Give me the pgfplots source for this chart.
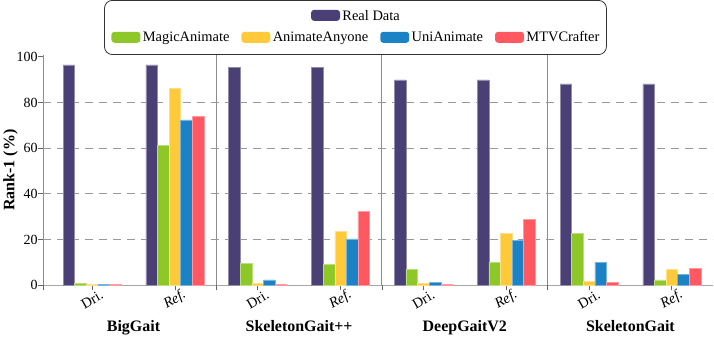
\documentclass[border=0pt]{standalone}
\usepackage{pgfplots}
\pgfplotsset{compat=1.18}
\usepackage{fontspec}
\setmainfont{Liberation Serif}

\definecolor{creal}{RGB}{74,64,118}
\definecolor{cmagic}{RGB}{141,200,40}
\definecolor{canyone}{RGB}{255,202,58}
\definecolor{cuni}{RGB}{27,130,198}
\definecolor{cmtv}{RGB}{255,88,96}

% legend swatch
\newcommand{\sw}[1]{\tikz[baseline=0pt]\fill[#1,rounded corners=3pt] (0,-0.8pt) rectangle (20pt,10.2pt);}

\begin{document}
\begin{tikzpicture}
\begin{axis}[
  scale only axis,
  width=672pt, height=231pt,
  xmin=-0.59, xmax=7.5,
  ymin=0, ymax=100.8,
  axis x line=bottom, axis y line=left,
  axis line style={-},
  x axis line style={black!35, line width=1.5pt},
  y axis line style={black!65, line width=0.8pt},
  tick align=outside, major tick length=5pt,
  tick style={black!60, line width=0.8pt},
  xtick={0,...,7},
  xticklabels={Dri.,\textit{Ref.},Dri.,\textit{Ref.},Dri.,\textit{Ref.},Dri.,\textit{Ref.}},
  xticklabel style={anchor=center, rotate=30, font=\fontsize{14.5}{14.5}\selectfont},
  xticklabel shift=9.5pt,
  ytick={0,20,...,100},
  yticklabel style={inner xsep=0.5pt, font=\fontsize{14}{14}\selectfont},
  /pgf/number format/assume math mode=true,
  extra y ticks={20,40,60,80}, extra y tick labels={},
  extra y tick style={grid=major, major grid style={black!40, dash pattern=on 8pt off 6pt, line width=1pt}},
  extra x ticks={-0.59,1.5,3.5,5.5}, extra x tick labels={},
  extra x tick style={grid=major, major grid style={black!45, line width=1pt}},
  ylabel={Rank-1 (\%)},
  ylabel style={at={(axis description cs:-0.0327,0.5)}, anchor=south, font=\bfseries\fontsize{16}{16}\selectfont},
  clip=false,
]
\addplot[ybar, bar width=0.14, bar shift=-0.28, fill=creal, draw=creal!60!white, line width=0.5pt]
  coordinates {(0,96.5) (1,96.5) (2,95.3) (3,95.3) (4,89.9) (5,89.9) (6,88.2) (7,88.2)};
\addplot[ybar, bar width=0.14, bar shift=-0.14, fill=cmagic, draw=cmagic!60!white, line width=0.5pt]
  coordinates {(0,0.8) (1,61.2) (2,9.7) (3,9.2) (4,6.9) (5,10.1) (6,22.8) (7,2.4)};
\addplot[ybar, bar width=0.14, bar shift=0, fill=canyone, draw=canyone!60!white, line width=0.5pt]
  coordinates {(0,0.3) (1,86.3) (2,0.8) (3,23.5) (4,0.9) (5,22.7) (6,1.7) (7,6.9)};
\addplot[ybar, bar width=0.14, bar shift=0.14, fill=cuni, draw=cuni!60!white, line width=0.5pt]
  coordinates {(0,0.5) (1,72.4) (2,2.4) (3,20.3) (4,1.2) (5,19.5) (6,10.1) (7,4.7)};
\addplot[ybar, bar width=0.14, bar shift=0.28, fill=cmtv, draw=cmtv!60!white, line width=0.5pt]
  coordinates {(0,0.4) (1,73.9) (2,0.5) (3,32.2) (4,0.5) (5,28.8) (6,1.2) (7,7.3)};

% group names
\node[font=\bfseries\fontsize{16}{16}\selectfont, anchor=base, yshift=-46pt] at (axis cs:0.5,0) {BigGait};
\node[font=\bfseries\fontsize{16}{16}\selectfont, anchor=base, yshift=-46pt] at (axis cs:2.5,0) {SkeletonGait++};
\node[font=\bfseries\fontsize{16}{16}\selectfont, anchor=base, yshift=-46pt] at (axis cs:4.5,0) {DeepGaitV2};
\node[font=\bfseries\fontsize{16}{16}\selectfont, anchor=base, yshift=-46pt] at (axis cs:6.5,0) {SkeletonGait};

% legend
\node[draw=black!80, line width=0.8pt, rounded corners=8pt, fill=white, anchor=south,
      inner xsep=7pt, inner ysep=9.5pt, align=center, font=\fontsize{14.5}{22}\selectfont]
  at (rel axis cs:0.466,1) {%
  \sw{creal}\,Real Data\\
  \sw{cmagic}\,MagicAnimate\hspace{12pt}\sw{canyone}\,AnimateAnyone\hspace{12pt}\sw{cuni}\,UniAnimate\hspace{12pt}\sw{cmtv}\,MTVCrafter};
\end{axis}
\end{tikzpicture}
\end{document}
